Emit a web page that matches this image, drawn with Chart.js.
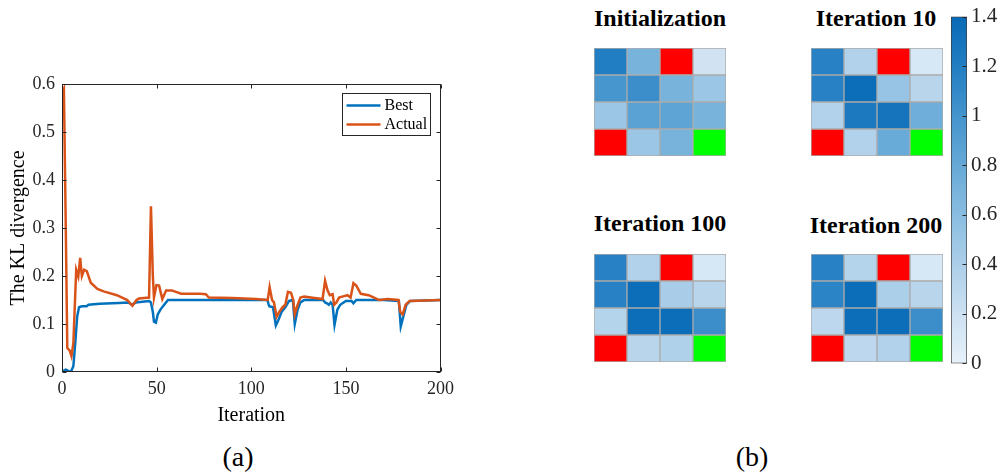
<!DOCTYPE html>
<html>
<head>
<meta charset="utf-8">
<script src="https://cdn.jsdelivr.net/npm/chart.js@4/dist/chart.umd.min.js"></script>
<style>
body { margin: 0; background: #fff; }
#wrap { position: relative; width: 1002px; height: 474px; overflow: hidden; font-family: "Liberation Serif", serif; }
#wrap canvas { position: absolute; }
.lbl { position: absolute; white-space: nowrap; color: #000; transform: translate(-50%, -50%); }
.ttl { font-weight: bold; font-size: 24px; }
.cap { font-size: 28px; }
</style>
</head>
<body>
<div id="wrap">
  <canvas id="klChart" width="460" height="428" style="left:0;top:0"></canvas>
  <canvas id="gridInit" width="134" height="110" style="left:593px;top:47px"></canvas>
  <canvas id="grid10" width="134" height="110" style="left:810px;top:47px"></canvas>
  <canvas id="grid100" width="134" height="110" style="left:593px;top:253px"></canvas>
  <canvas id="grid200" width="134" height="110" style="left:810px;top:253px"></canvas>
  <canvas id="colorBar" width="54" height="380" style="left:948px;top:0"></canvas>
  <div class="lbl ttl" style="left:660px;top:18px">Initialization</div>
  <div class="lbl ttl" style="left:876px;top:18px">Iteration 10</div>
  <div class="lbl ttl" style="left:660px;top:223px">Iteration 100</div>
  <div class="lbl ttl" style="left:876px;top:225px">Iteration 200</div>
  <div class="lbl cap" style="left:238px;top:457px">(a)</div>
  <div class="lbl cap" style="left:752px;top:457px">(b)</div>
</div>
<script>
// KL divergence curves (iteration, value)
const bestIter = [0, 1, 2, 3, 4, 5, 6, 7, 8, 9, 10.5, 13, 14, 20, 30, 35, 37, 39, 46, 47, 48, 48.6, 49.6, 50.6, 52, 54, 56, 100, 108.5, 109.5, 111.5, 113, 114.5, 116, 118, 120, 122, 123, 124.5, 126, 128, 138, 139, 140, 141, 142, 143, 144, 145.5, 147, 150, 153, 154, 155.5, 170, 178, 179, 180, 182, 184, 200];
const bestKL = [0, 0.003, 0.005, 0.003, 0, 0.003, 0.012, 0.06, 0.115, 0.135, 0.137, 0.137, 0.14, 0.142, 0.144, 0.145, 0.14, 0.145, 0.148, 0.145, 0.125, 0.105, 0.103, 0.12, 0.13, 0.14, 0.15, 0.15, 0.15, 0.137, 0.135, 0.097, 0.11, 0.125, 0.135, 0.148, 0.15, 0.1, 0.13, 0.145, 0.15, 0.15, 0.145, 0.143, 0.14, 0.145, 0.14, 0.098, 0.13, 0.14, 0.148, 0.148, 0.143, 0.15, 0.15, 0.148, 0.095, 0.11, 0.14, 0.148, 0.15];
const actualIter = [0, 1, 2, 2.8, 4, 5, 6, 7.5, 8.6, 9.6, 10.5, 11.7, 13.1, 15.2, 18.7, 22, 29, 34.5, 37.2, 39.4, 40.7, 46, 47, 48, 48.6, 49.9, 51.3, 53, 55, 58, 63, 73, 76, 77.6, 90, 102.5, 108.7, 109.7, 111, 112, 113.4, 114.8, 116.6, 118, 119.4, 121, 122.2, 123, 124.5, 126, 128, 131.5, 137.7, 139, 140.3, 141.5, 143, 143.8, 145, 146.4, 149, 150.8, 152.5, 154, 155.5, 157.9, 162, 164.9, 167.5, 172, 177.8, 178.7, 180, 181.6, 183.7, 200];
const actualKL = [0.58, 0.59, 0.3, 0.05, 0.045, 0.033, 0.06, 0.213, 0.199, 0.238, 0.2, 0.213, 0.21, 0.186, 0.173, 0.168, 0.16, 0.15, 0.138, 0.15, 0.153, 0.155, 0.345, 0.2, 0.155, 0.181, 0.18, 0.152, 0.17, 0.17, 0.163, 0.163, 0.162, 0.155, 0.154, 0.152, 0.15, 0.177, 0.15, 0.145, 0.115, 0.125, 0.135, 0.14, 0.167, 0.165, 0.15, 0.12, 0.14, 0.155, 0.157, 0.155, 0.152, 0.19, 0.17, 0.16, 0.162, 0.14, 0.145, 0.155, 0.158, 0.16, 0.155, 0.185, 0.18, 0.163, 0.16, 0.155, 0.15, 0.152, 0.15, 0.125, 0.12, 0.14, 0.148, 0.15];
const xTicks = [0, 50, 100, 150, 200];
const yTicks = [0, 0.1, 0.2, 0.3, 0.4, 0.5, 0.6];

// grid values, top row first; 'X' = obstacle (red), 'G' = goal (green)
const gridInit = [[1.2, 0.7, 'X', 0.17], [0.98, 1.05, 0.7, 0.5], [0.5, 0.87, 0.85, 0.7], ['X', 0.5, 0.7, 'G']];
const grid10 = [[1.17, 0.37, 'X', 0.13], [1.17, 1.37, 0.52, 0.33], [0.37, 1.25, 1.3, 0.75], ['X', 0.37, 0.78, 'G']];
const grid100 = [[1.17, 0.37, 'X', 0.13], [1.17, 1.37, 0.42, 0.33], [0.35, 1.37, 1.37, 1.05], ['X', 0.33, 0.38, 'G']];
const grid200 = [[1.17, 0.35, 'X', 0.13], [1.15, 1.37, 0.4, 0.33], [0.3, 1.37, 1.37, 1.05], ['X', 0.3, 0.37, 'G']];
const barTicks = [0, 0.2, 0.4, 0.6, 0.8, 1, 1.2, 1.4];

const serif = '"Liberation Serif", serif';
const axisColor = '#262626';
const cmap = [[231, 241, 250], [205, 225, 242], [172, 207, 233], [137, 189, 225], [102, 169, 215], [68, 148, 205], [34, 126, 194], [8, 106, 182]];
const cmax = 1.4;

function cmapColor(v) {
  const t = Math.max(0, Math.min(1, v / cmax)) * (cmap.length - 1);
  const i = Math.min(cmap.length - 2, Math.floor(t));
  const f = t - i;
  const c = cmap[i].map((a, k) => Math.round(a + (cmap[i + 1][k] - a) * f));
  return 'rgb(' + c.join(',') + ')';
}
function cellColor(v) {
  if (v === 'X') return '#ff0000';
  if (v === 'G') return '#00ff00';
  return cmapColor(v);
}
const toPoints = (xs, ys) => xs.map((x, i) => ({ x: x, y: ys[i] }));

// box, inward ticks and legend like the matlab figure
const matlabAxes = {
  id: 'matlabAxes',
  afterDraw(chart) {
    const { ctx, chartArea: a, scales: { x, y } } = chart;
    const L = Math.round(a.left) + 0.5, R = Math.round(a.right) - 0.5;
    const T = Math.round(a.top) + 0.5, B = Math.round(a.bottom) - 0.5;
    ctx.save();
    ctx.strokeStyle = axisColor;
    ctx.lineWidth = 1;
    ctx.strokeRect(L, T, R - L, B - T);
    ctx.beginPath();
    xTicks.forEach(v => {
      const px = Math.round(x.getPixelForValue(v)) + 0.5;
      ctx.moveTo(px, B); ctx.lineTo(px, B - 4);
      ctx.moveTo(px, T); ctx.lineTo(px, T + 4);
    });
    yTicks.forEach(v => {
      const py = Math.round(y.getPixelForValue(v)) + 0.5;
      ctx.moveTo(L, py); ctx.lineTo(L + 4, py);
      ctx.moveTo(R, py); ctx.lineTo(R - 4, py);
    });
    ctx.stroke();

    // legend
    const bx = Math.round(a.right) - 98.5, by = Math.round(a.top) + 9.5, bw = 88, bh = 42;
    ctx.fillStyle = '#fff';
    ctx.fillRect(bx, by, bw, bh);
    ctx.strokeRect(bx, by, bw, bh);
    ctx.font = '16px ' + serif;
    ctx.textBaseline = 'middle';
    chart.data.datasets.forEach((ds, i) => {
      const ly = by + 12 + i * 19;
      ctx.strokeStyle = ds.borderColor;
      ctx.lineWidth = 2.5;
      ctx.beginPath(); ctx.moveTo(bx + 4, ly); ctx.lineTo(bx + 38, ly); ctx.stroke();
      ctx.fillStyle = '#000';
      ctx.fillText(ds.label, bx + 42, ly);
    });
    ctx.restore();
  }
};

new Chart(document.getElementById('klChart'), {
  type: 'line',
  data: {
    datasets: [
      { label: 'Best', data: toPoints(bestIter, bestKL), borderColor: '#0072BD', order: 1 },
      { label: 'Actual', data: toPoints(actualIter, actualKL), borderColor: '#D95319', order: 0 }
    ]
  },
  options: {
    responsive: false,
    animation: false,
    layout: { padding: { left: 0, top: 84, right: 18, bottom: 0 } },
    elements: { point: { radius: 0 }, line: { borderWidth: 2.5, tension: 0 } },
    plugins: { legend: { display: false }, tooltip: { enabled: false } },
    scales: {
      x: {
        type: 'linear', min: 0, max: 200,
        afterBuildTicks: s => { s.ticks = xTicks.map(v => ({ value: v })); },
        ticks: { color: axisColor, font: { family: serif, size: 18 }, padding: 6, maxRotation: 0 },
        grid: { display: false, drawTicks: false },
        border: { display: false },
        title: { display: true, text: 'Iteration', color: '#000', font: { family: serif, size: 20 }, padding: { top: 3, bottom: 0 } },
        afterFit: s => { s.height = 56; }
      },
      y: {
        min: 0, max: 0.6,
        afterBuildTicks: s => { s.ticks = yTicks.map(v => ({ value: v })); },
        ticks: { color: axisColor, font: { family: serif, size: 18 }, padding: 7, callback: v => String(v) },
        grid: { display: false, drawTicks: false },
        border: { display: false },
        title: { display: true, text: 'The KL divergence', color: '#000', font: { family: serif, size: 20 }, padding: { top: 7, bottom: 0 } },
        afterFit: s => { s.width = 62; }
      }
    }
  },
  plugins: [matlabAxes]
});

function makeGrid(id, grid) {
  const rows = grid.slice().reverse(); // bottom row is stacked first
  new Chart(document.getElementById(id), {
    type: 'bar',
    data: {
      labels: ['1', '2', '3', '4'],
      datasets: rows.map(row => ({
        data: row.map(() => 1),
        backgroundColor: row.map(cellColor),
        borderColor: '#ababab',
        borderWidth: 1,
        borderSkipped: false,
        barPercentage: 1,
        categoryPercentage: 1
      }))
    },
    options: {
      responsive: false,
      animation: false,
      layout: { padding: 1 },
      plugins: { legend: { display: false }, tooltip: { enabled: false } },
      scales: {
        x: { display: false, stacked: true },
        y: { display: false, stacked: true, min: 0, max: rows.length }
      }
    }
  });
}
makeGrid('gridInit', gridInit);
makeGrid('grid10', grid10);
makeGrid('grid100', grid100);
makeGrid('grid200', grid200);

// colour bar
const barTickMarks = {
  id: 'barTickMarks',
  afterDraw(chart) {
    const { ctx, chartArea: a, scales: { y } } = chart;
    const R = Math.round(a.right) - 0.5;
    ctx.save();
    ctx.strokeStyle = axisColor;
    ctx.lineWidth = 1;
    ctx.beginPath();
    barTicks.forEach(v => {
      const py = Math.round(y.getPixelForValue(v)) + 0.5;
      ctx.moveTo(R, py); ctx.lineTo(R - 4, py);
    });
    ctx.stroke();
    ctx.restore();
  }
};

new Chart(document.getElementById('colorBar'), {
  type: 'bar',
  data: {
    labels: ['c'],
    datasets: [{
      data: [[0, cmax]],
      backgroundColor: c => {
        const chart = c.chart;
        if (!chart.chartArea) return cmapColor(cmax / 2);
        const y = chart.scales.y;
        const g = chart.ctx.createLinearGradient(0, y.getPixelForValue(0), 0, y.getPixelForValue(cmax));
        cmap.forEach((col, i) => g.addColorStop(i / (cmap.length - 1), 'rgb(' + col.join(',') + ')'));
        return g;
      },
      borderColor: '#3a3a3a',
      borderWidth: 1,
      borderSkipped: false,
      barPercentage: 1,
      categoryPercentage: 1
    }]
  },
  options: {
    responsive: false,
    animation: false,
    layout: { padding: { left: 3, top: 11, right: 0, bottom: 16 } },
    plugins: { legend: { display: false }, tooltip: { enabled: false } },
    scales: {
      x: { display: false },
      y: {
        position: 'right', min: 0, max: cmax,
        afterBuildTicks: s => { s.ticks = barTicks.map(v => ({ value: v })); },
        ticks: { color: axisColor, font: { family: serif, size: 21 }, padding: 4, callback: v => String(v) },
        grid: { display: false, drawTicks: false },
        border: { display: false },
        afterFit: s => { s.width = 35; }
      }
    }
  },
  plugins: [barTickMarks]
});
</script>
</body>
</html>
